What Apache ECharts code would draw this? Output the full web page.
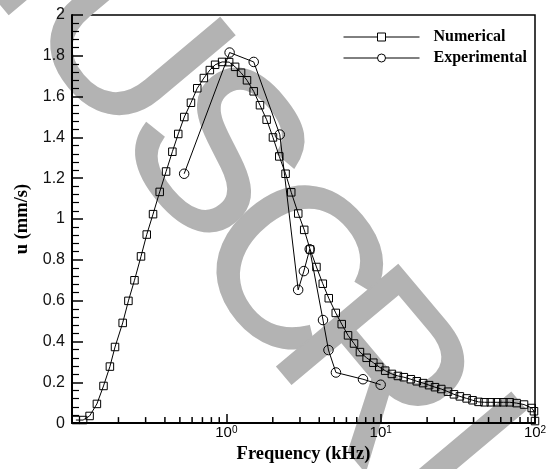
<!DOCTYPE html>
<html>
<head>
<meta charset="utf-8">
<script src="https://cdn.jsdelivr.net/npm/echarts@6/dist/echarts.min.js"></script>
<style>html,body{margin:0;padding:0;background:#fff}#c{width:550px;height:469px}</style>
</head>
<body>
<div id="c"></div>
<script>
// Numerical (squares)
var numFreq = [0.106, 0.118, 0.130, 0.145, 0.160, 0.176, 0.190, 0.213, 0.232, 0.254, 0.280, 0.305, 0.335, 0.370, 0.407, 0.447, 0.488, 0.534, 0.590, 0.648, 0.715, 0.782, 0.846, 0.939, 1.043, 1.14, 1.246, 1.361, 1.504, 1.652, 1.825, 2.005, 2.203, 2.42, 2.633, 2.924, 3.196, 3.49, 3.837, 4.217, 4.61, 5.117, 5.594, 6.146, 6.72, 7.34, 8.11, 8.96, 9.79, 10.7, 11.82, 12.93, 14.13, 15.69, 17.14, 18.84, 20.59, 22.5, 24.7, 27.3, 29.85, 32.6, 36.06, 39.4, 43.05, 47.07, 51.7, 56.8, 62.4, 68.6, 76, 84.9, 95.2, 98.5, 100];
var numVal = [0.015, 0.015, 0.035, 0.094, 0.182, 0.277, 0.373, 0.491, 0.599, 0.70, 0.817, 0.924, 1.024, 1.133, 1.233, 1.330, 1.417, 1.50, 1.57, 1.641, 1.691, 1.73, 1.756, 1.770, 1.769, 1.746, 1.717, 1.68, 1.626, 1.558, 1.487, 1.40, 1.307, 1.222, 1.131, 1.027, 0.947, 0.851, 0.765, 0.683, 0.612, 0.54, 0.485, 0.43, 0.39, 0.348, 0.32, 0.296, 0.275, 0.257, 0.241, 0.231, 0.225, 0.215, 0.205, 0.196, 0.186, 0.176, 0.167, 0.154, 0.141, 0.131, 0.121, 0.112, 0.104, 0.102, 0.102, 0.102, 0.102, 0.102, 0.098, 0.091, 0.074, 0.058, 0.01];
// Experimental (circles)
var expFreq = [0.533, 1.05, 1.505, 2.22, 2.92, 3.18, 3.47, 4.23, 4.59, 5.13, 7.68, 10.0];
var expVal = [1.222, 1.816, 1.770, 1.414, 0.653, 0.745, 0.852, 0.505, 0.358, 0.248, 0.215, 0.188];
// x-axis minor tick positions (log axis)
var xMinorTicks = [0.2, 0.3, 0.4, 0.5, 0.6, 0.7, 0.8, 0.9, 2, 3, 4, 5, 6, 7, 8, 9, 20, 30, 40, 50, 60, 70, 80, 90];
var seriesNames = ['Numerical', 'Experimental'];
// watermark letters
var wmLetters = ['N', 'U', 'S', 'C', 'R', 'I'];
var wmPos = [[16, -76], [120, 46], [208, 158], [284, 274], [367, 375], [446, 462]];

function zip(a, b) { return a.map(function (v, i) { return [v, b[i]]; }); }

var chart = echarts.init(document.getElementById('c'), null, {renderer: 'canvas'});
var wmRot = -50 * Math.PI / 180;
var graphics = wmLetters.map(function (ch, i) {
  return {
    type: 'text', x: wmPos[i][0], y: wmPos[i][1], rotation: wmRot, z: 0, silent: true,
    style: {
      text: ch, x: 0, y: 0, fill: '#b3b3b3', stroke: '#b3b3b3', lineWidth: 3,
      font: 'normal 228px "Liberation Sans", Arial, sans-serif',
      textAlign: 'center', textVerticalAlign: 'middle', align: 'center', verticalAlign: 'middle'
    }
  };
});

var serifFont = '"Liberation Serif", "Times New Roman", serif';
var sansFont = '"Liberation Sans", Arial, sans-serif';

var option = {
  animation: false,
  backgroundColor: '#fff',
  graphic: { elements: graphics },
  grid: { left: 72, right: 15, top: 15, bottom: 42, show: true, borderColor: '#000', borderWidth: 1.5, backgroundColor: 'transparent' },
  legend: {
    data: seriesNames, orient: 'vertical', left: 343, top: 29, padding: 0,
    itemWidth: 76, itemHeight: 10, itemGap: 5,
    itemStyle: { color: '#fff', borderColor: '#000', borderWidth: 1 },
    lineStyle: { color: '#000', width: 1 },
    textStyle: { fontFamily: serifFont, fontWeight: 'bold', fontSize: 16, color: '#000', lineHeight: 14, padding: [0, 0, 0, 9] }
  },
  xAxis: {
    type: 'log', logBase: 10, min: 0.1, max: 100,
    name: 'Frequency (kHz)', nameLocation: 'middle', nameGap: 16,
    nameTextStyle: { fontFamily: serifFont, fontWeight: 'bold', fontSize: 18.5, color: '#000' },
    axisLine: { show: true, lineStyle: { color: '#000', width: 2 } },
    axisTick: { show: true, inside: true, length: 9, lineStyle: { color: '#000', width: 1.5 } },
    minorTick: { show: false },
    splitLine: { show: false },
    axisLabel: {
      margin: 2, color: '#000',
      formatter: function (v) {
        var e = Math.round(Math.log10(v));
        if (e < 0) return '';
        return '{a|10}{b|' + e + '}';
      },
      rich: {
        a: { fontFamily: sansFont, fontSize: 15, lineHeight: 15, padding: [4, 0, 0, 0], verticalAlign: 'bottom', color: '#000' },
        b: { fontFamily: sansFont, fontSize: 10, lineHeight: 10, verticalAlign: 'top', color: '#000' }
      }
    }
  },
  yAxis: {
    type: 'value', min: 0, max: 2, interval: 0.2,
    name: 'u (mm/s)', nameLocation: 'middle', nameGap: 39, nameRotate: 90,
    nameTextStyle: { fontFamily: serifFont, fontWeight: 'bold', fontSize: 18.5, color: '#000' },
    axisLine: { show: true, lineStyle: { color: '#000', width: 2 } },
    axisTick: { show: true, inside: true, length: 11, lineStyle: { color: '#000', width: 1.5 } },
    minorTick: { show: true, splitNumber: 5, length: 7, lineStyle: { color: '#000', width: 1.2 } },
    splitLine: { show: false },
    axisLabel: { margin: 7, fontFamily: sansFont, fontSize: 16, color: '#111' }
  },
  series: [
    {
      name: seriesNames[0], type: 'line', data: zip(numFreq, numVal), z: 3,
      symbol: 'rect', symbolSize: 7.5, showAllSymbol: true,
      lineStyle: { color: '#000', width: 1 },
      itemStyle: { color: 'rgba(0,0,0,0)', borderColor: '#000', borderWidth: 1 },
      emphasis: { disabled: true }
    },
    {
      name: seriesNames[1], type: 'line', data: zip(expFreq, expVal), z: 3,
      symbol: 'circle', symbolSize: 9.5, showAllSymbol: true,
      lineStyle: { color: '#000', width: 1 },
      itemStyle: { color: 'rgba(0,0,0,0)', borderColor: '#000', borderWidth: 1 },
      emphasis: { disabled: true }
    },
    {
      name: 'xminor', type: 'custom', silent: true, z: 5, clip: false,
      data: xMinorTicks.map(function (v) { return [v, 0]; }),
      encode: { x: 0, y: 1 },
      renderItem: function (params, api) {
        var p = api.coord([api.value(0), 0]);
        return { type: 'line', shape: { x1: p[0], y1: p[1], x2: p[0], y2: p[1] - 6 }, style: { stroke: '#000', lineWidth: 1.5 } };
      }
    }
  ]
};
chart.setOption(option);
</script>
</body>
</html>
